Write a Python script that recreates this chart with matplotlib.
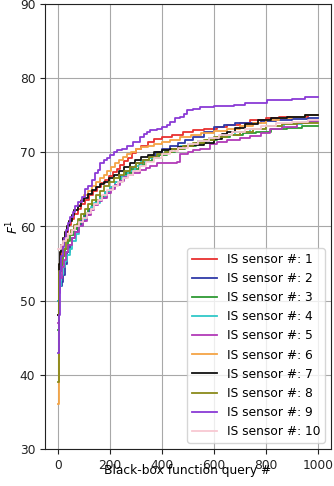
import matplotlib
matplotlib.use("Agg")
import matplotlib.pyplot as plt

# Best-so-far F1 score per sensor: query index where the value changes, and the new value
q1 = [0, 3, 6, 10, 15, 22, 30, 40, 50, 62, 75, 90, 105, 120, 135, 150, 165, 180, 195, 210, 225,
      240, 255, 270, 285, 300, 320, 345, 370, 400, 440, 480, 520, 560, 610, 650, 700, 740, 800, 850, 900, 960]
v1 = [48, 53, 55, 56.5, 57.5, 58.5, 59.3, 60.2, 61, 61.7, 62.4, 63, 63.6, 64.2, 64.8, 65.3, 65.8, 66.3, 66.8, 67.3, 67.8,
      68.3, 68.8, 69.3, 69.9, 70.4, 70.9, 71.4, 71.8, 72.1, 72.4, 72.8, 73.0, 73.2, 73.4, 73.7, 74.0, 74.4, 74.6, 74.7, 74.8, 75.0]

q2 = [0, 3, 8, 14, 20, 28, 36, 45, 55, 65, 78, 90, 105, 120, 135, 150, 165, 180, 200, 220, 240,
      260, 280, 300, 325, 350, 375, 400, 430, 460, 490, 520, 560, 600, 640, 680, 720, 780, 840, 900, 960]
v2 = [50, 51.5, 52, 52.5, 53.5, 55, 56.5, 57.5, 58.5, 59.3, 60, 60.8, 61.5, 62.3, 63, 63.5, 63.9, 64.5, 65.3, 66, 66.8,
      67.4, 68, 68.5, 69, 69.5, 70, 70.4, 70.8, 71.2, 71.6, 72.1, 72.7, 73.4, 73.7, 73.9, 74.0, 74.2, 74.4, 74.5, 74.6]

q3 = [0, 4, 8, 14, 20, 28, 38, 48, 60, 72, 85, 100, 115, 130, 145, 160, 180, 200, 220,
      240, 260, 285, 310, 335, 360, 390, 420, 450, 490, 530, 570, 610, 660, 710, 760, 820, 880, 940]
v3 = [46, 52, 54, 55, 56, 57, 58, 58.8, 59.6, 60.3, 61, 61.7, 62.4, 63, 63.6, 64.1, 64.7, 65.3, 66,
      66.6, 67.2, 67.8, 68.3, 68.8, 69.2, 69.7, 70.1, 70.5, 70.9, 71.3, 71.7, 72, 72.3, 72.6, 72.8, 73.1, 73.3, 73.6]

q4 = [0, 5, 10, 18, 26, 35, 45, 55, 68, 80, 95, 110, 125, 140, 160, 180, 200, 220,
      245, 270, 295, 320, 350, 380, 410, 440, 470, 500, 540, 580, 630, 680, 740, 800, 870, 940]
v4 = [50, 52, 53.5, 54.5, 55.3, 56.2, 57, 58, 59, 60, 61, 61.8, 62.6, 63.2, 63.9, 64.6, 65.3, 66,
      66.8, 67.5, 68.2, 68.8, 69.3, 69.8, 70.2, 70.5, 70.8, 71.1, 71.5, 71.9, 72.3, 72.7, 73.1, 73.5, 73.8, 74.1]

q5 = [0, 4, 9, 15, 22, 30, 40, 52, 65, 80, 95, 111, 125, 140, 155, 170, 188, 205, 220, 237, 252, 270,
      290, 317, 340, 355, 381, 420, 458, 470, 500, 521, 548, 586, 611, 650, 700, 740, 780, 817, 860, 919, 960]
v5 = [47, 51, 53, 54.5, 55.5, 56.5, 57.5, 58.5, 59.3, 60, 60.7, 61.5, 62.2, 62.9, 63.4, 63.9, 64.5, 65, 65.6, 66.2, 66.7, 66.9,
      67.2, 67.6, 67.9, 68.2, 68.5, 68.6, 68.7, 69.8, 70.1, 70.3, 70.4, 71.1, 71.4, 71.6, 71.9, 72.2, 72.6, 73.1, 73.4, 73.9, 74.2]

q6 = [0, 2, 6, 12, 18, 25, 33, 42, 52, 63, 75, 88, 100, 115, 130, 145, 160, 175, 190, 205, 220,
      235, 250, 265, 280, 300, 320, 345, 370, 400, 430, 470, 510, 550, 600, 650, 700, 750, 800, 850, 900, 950]
v6 = [36, 55, 56.5, 57.5, 58.5, 59.3, 60, 60.8, 61.5, 62.2, 62.9, 63.6, 64.2, 64.8, 65.4, 66, 66.5, 67, 67.5, 68, 68.5,
      69, 69.4, 69.8, 70.1, 70.4, 70.7, 70.9, 71.1, 71.4, 71.7, 72, 72.3, 72.6, 72.9, 73.2, 73.6, 74, 74.3, 74.6, 74.8, 75]

q7 = [0, 3, 7, 12, 18, 25, 33, 42, 52, 63, 75, 88, 100, 115, 130, 145, 160, 175, 195, 215, 235,
      255, 275, 295, 320, 345, 370, 400, 430, 460, 490, 520, 560, 600, 630, 650, 680, 720, 770, 820, 880, 950]
v7 = [48, 55, 56.5, 57.5, 58.5, 59.3, 60, 60.8, 61.5, 62.2, 62.8, 63.4, 63.9, 64.4, 64.9, 65.3, 65.7, 66, 66.5, 67, 67.5,
      68, 68.5, 69, 69.4, 69.7, 70, 70.3, 70.5, 70.7, 70.8, 71, 71.3, 71.8, 72.5, 72.8, 73.3, 73.8, 74.3, 74.6, 74.8, 75]

q8 = [0, 2, 5, 10, 16, 23, 31, 40, 50, 62, 75, 88, 102, 116, 130, 145, 160, 178, 196, 215,
      235, 255, 275, 300, 325, 350, 380, 410, 440, 480, 520, 560, 600, 650, 700, 750, 800, 860, 920]
v8 = [39, 43, 54, 55, 56, 57, 58, 58.8, 59.5, 60.2, 61, 61.7, 62.4, 63, 63.6, 64.2, 64.8, 65.4, 66, 66.5,
      67, 67.5, 68, 68.5, 69, 69.4, 69.8, 70.1, 70.4, 70.8, 71.2, 71.6, 72, 72.4, 72.8, 73.1, 73.5, 73.8, 74]

q9 = [0, 3, 6, 9, 13, 18, 22, 30, 40, 47, 56, 66, 78, 92, 105, 117, 130, 143, 155, 163, 175, 188, 200, 215, 227, 245,
      265, 290, 317, 329, 342, 355, 380, 400, 419, 432, 450, 470, 483, 496, 520, 548, 600, 650, 675, 720, 760, 803, 850, 900, 950]
v9 = [43, 48, 52, 54, 56, 57.3, 58.5, 59.5, 60.5, 61.3, 62, 62.7, 63.3, 64, 65, 65.5, 66.3, 67.2, 67.6, 68.5, 69, 69.3, 69.6, 70.1, 70.3, 70.5,
      70.8, 71.4, 72, 72.5, 72.8, 73, 73.2, 73.4, 73.7, 74.1, 74.6, 74.8, 75.2, 75.7, 75.9, 76.1, 76.2, 76.3, 76.4, 76.6, 76.7, 77, 77.1, 77.2, 77.4]

q10 = [0, 10, 20, 30, 40, 52, 65, 80, 95, 110, 125, 140, 155, 170, 190, 210, 230, 250,
       270, 290, 315, 340, 370, 400, 430, 460, 500, 540, 580, 620, 670, 720, 780, 840, 900, 960]
v10 = [57, 57.5, 58, 58.5, 59, 59.5, 60, 60.6, 61.2, 61.8, 62.4, 63, 63.6, 64.2, 64.9, 65.5, 66, 66.5,
       67, 67.5, 68.1, 68.7, 69.3, 69.8, 70.2, 70.6, 71.1, 71.5, 71.9, 72.3, 72.7, 73.1, 73.5, 73.9, 74.1, 74.3]

n_queries = 1000
sensor_ids = [1, 2, 3, 4, 5, 6, 7, 8, 9, 10]
queries = [q1, q2, q3, q4, q5, q6, q7, q8, q9, q10]
values = [v1, v2, v3, v4, v5, v6, v7, v8, v9, v10]
colors = ["#e8302f", "#2f3aa8", "#2e9a34", "#30c8c8", "#b23ab8",
          "#f4a445", "#111111", "#8a8a1a", "#8a3ad6", "#f8c8d2"]

fig = plt.figure(figsize=(3.34, 4.86), dpi=100)
ax = fig.add_axes([45 / 334, 37 / 486, 286 / 334, 445 / 486])

for sid, qs, vs, col in zip(sensor_ids, queries, values, colors):
    assert len(qs) == len(vs), sid
    xs = list(qs) + [n_queries]
    ys = list(vs) + [vs[-1]]
    ax.plot(xs, ys, drawstyle="steps-post", color=col, lw=1.3,
            label=f"IS sensor #: {sid}")

ax.set_xlim(-50, 1050)
ax.set_ylim(30, 90)
ax.set_xticks([0, 200, 400, 600, 800, 1000])
ax.set_yticks([30, 40, 50, 60, 70, 80, 90])
ax.tick_params(labelsize=8.8, colors="#222222")
ax.grid(True, color="#a8a8a8", lw=0.8)
for sp in ax.spines.values():
    sp.set_color("#222222")

ax.set_xlabel("Black-box function query #", fontsize=8.8)
ax.xaxis.set_label_coords(0.5, -0.034)
ax.set_ylabel(r"$F^1$", fontsize=8.8)
ax.yaxis.set_label_coords(-0.084, 0.5)

ax.legend(loc="lower right", fontsize=8.8, handlelength=2.0)

fig.savefig("out.png", dpi=100)
